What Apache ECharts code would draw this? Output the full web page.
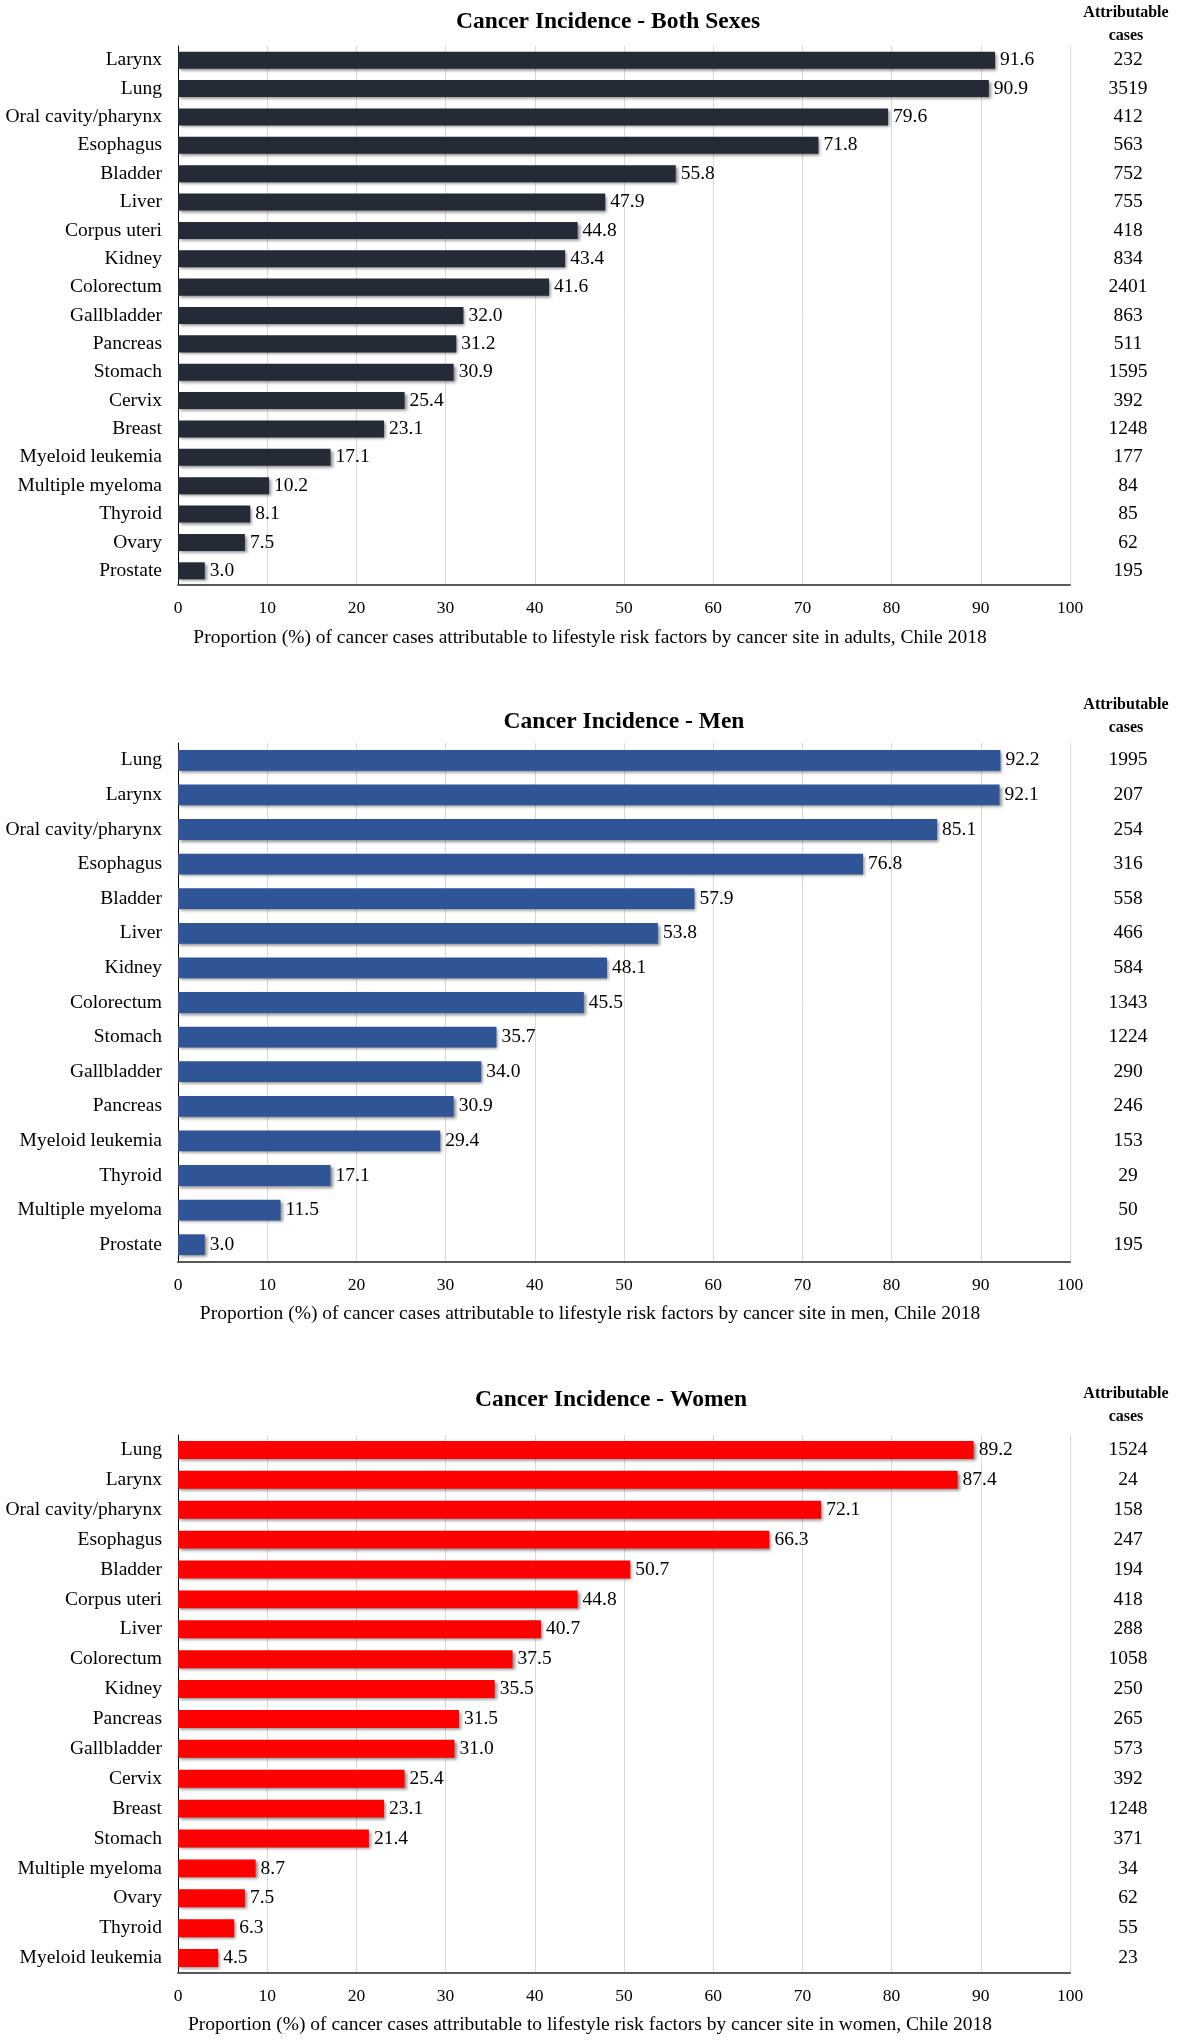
<!DOCTYPE html>
<html>
<head>
<meta charset="utf-8">
<script src="https://cdn.jsdelivr.net/npm/echarts@6/dist/echarts.min.js"></script>
<style>
html,body{margin:0;padding:0;background:#fff;}
#c{width:1181px;height:2040px;}
</style>
</head>
<body>
<div id="c"></div>
<script>
// ---- Data ----
const bothCategories = ["Larynx","Lung","Oral cavity/pharynx","Esophagus","Bladder","Liver","Corpus uteri","Kidney","Colorectum","Gallbladder","Pancreas","Stomach","Cervix","Breast","Myeloid leukemia","Multiple myeloma","Thyroid","Ovary","Prostate"];
const bothValues = [91.6,90.9,79.6,71.8,55.8,47.9,44.8,43.4,41.6,32.0,31.2,30.9,25.4,23.1,17.1,10.2,8.1,7.5,3.0];
const bothCases = [232,3519,412,563,752,755,418,834,2401,863,511,1595,392,1248,177,84,85,62,195];

const menCategories = ["Lung","Larynx","Oral cavity/pharynx","Esophagus","Bladder","Liver","Kidney","Colorectum","Stomach","Gallbladder","Pancreas","Myeloid leukemia","Thyroid","Multiple myeloma","Prostate"];
const menValues = [92.2,92.1,85.1,76.8,57.9,53.8,48.1,45.5,35.7,34.0,30.9,29.4,17.1,11.5,3.0];
const menCases = [1995,207,254,316,558,466,584,1343,1224,290,246,153,29,50,195];

const womenCategories = ["Lung","Larynx","Oral cavity/pharynx","Esophagus","Bladder","Corpus uteri","Liver","Colorectum","Kidney","Pancreas","Gallbladder","Cervix","Breast","Stomach","Multiple myeloma","Ovary","Thyroid","Myeloid leukemia"];
const womenValues = [89.2,87.4,72.1,66.3,50.7,44.8,40.7,37.5,35.5,31.5,31.0,25.4,23.1,21.4,8.7,7.5,6.3,4.5];
const womenCases = [1524,24,158,247,194,418,288,1058,250,265,573,392,1248,371,34,62,55,23];

const xTicks = [0,10,20,30,40,50,60,70,80,90,100];

const titles = ["Cancer Incidence - Both Sexes","Cancer Incidence - Men","Cancer Incidence - Women"];
const axisNames = [
  "Proportion (%) of cancer cases attributable to lifestyle risk factors by cancer site in adults, Chile 2018",
  "Proportion (%) of cancer cases attributable to lifestyle risk factors by cancer site in men, Chile 2018",
  "Proportion (%) of cancer cases attributable to lifestyle risk factors by cancer site in women, Chile 2018"
];
const headerText = "Attributable\ncases";

// ---- Layout ----
const FONT = "Liberation Serif";
const panels = [
  {cats: bothCategories, vals: bothValues, cases: bothCases, color: "#252b36", top: 46, height: 539, titleX: 608, titleY: 22, headY: 24, nameY: 638},
  {cats: menCategories, vals: menValues, cases: menCases, color: "#2f5597", top: 743, height: 519, titleX: 624, titleY: 722, headY: 716, nameY: 1314},
  {cats: womenCategories, vals: womenValues, cases: womenCases, color: "#ff0000", top: 1435, height: 538, titleX: 611, titleY: 1400, headY: 1405, nameY: 2025}
];

const grid = [], xAxis = [], yAxis = [], series = [], title = [];
panels.forEach((p, i) => {
  grid.push({left: 178, right: 111, top: p.top, height: p.height});
  xAxis.push({
    type: 'value', gridIndex: i, min: 0, max: 100, interval: 10,
    axisLine: {show: true, lineStyle: {color: '#595959', width: 2}},
    axisTick: {show: false},
    axisLabel: {color: '#000', fontFamily: FONT, fontSize: 17.5, margin: 14,
      formatter: v => xTicks.indexOf(v) >= 0 ? String(v) : ''},
    splitLine: {show: true, lineStyle: {color: '#d9d9d9', width: 1}}
  });
  yAxis.push({
    type: 'category', gridIndex: i, data: p.cats, inverse: true,
    axisLine: {show: true, lineStyle: {color: '#000', width: 1}},
    axisTick: {show: false},
    axisLabel: {color: '#000', fontFamily: FONT, fontSize: 19.5, margin: 16}
  });
  yAxis.push({
    type: 'category', gridIndex: i, data: p.cases.map(String), inverse: true, position: 'right',
    axisLine: {show: false}, axisTick: {show: false},
    axisLabel: {color: '#000', fontFamily: FONT, fontSize: 19.5, margin: 58, align: 'center'}
  });
  series.push({
    type: 'bar', xAxisIndex: i, yAxisIndex: i * 2, data: p.vals,
    barCategoryGap: '40%',
    itemStyle: {color: p.color, shadowColor: 'rgba(0,0,0,0.45)', shadowBlur: 3, shadowOffsetX: 2, shadowOffsetY: 2},
    label: {show: true, position: 'right', distance: 5, color: '#000', fontFamily: FONT, fontSize: 19.5,
      formatter: d => d.value.toFixed(1)},
    silent: true, animation: false
  });
  title.push({
    text: titles[i], left: p.titleX, top: p.titleY, padding: 0, textAlign: 'center', textVerticalAlign: 'middle',
    textStyle: {fontFamily: FONT, fontSize: 23.5, fontWeight: 'bold', color: '#000'}
  });
  title.push({
    text: axisNames[i], left: 590, top: p.nameY, padding: 0, textAlign: 'center', textVerticalAlign: 'middle',
    textStyle: {fontFamily: FONT, fontSize: 19.5, fontWeight: 'normal', color: '#000'}
  });
  title.push({
    text: headerText, left: 1126, top: p.headY, padding: 0, textAlign: 'center', textVerticalAlign: 'middle',
    textStyle: {fontFamily: FONT, fontSize: 16, fontWeight: 'bold', color: '#000', lineHeight: 23, align: 'center'}
  });
});

const chart = echarts.init(document.getElementById('c'), null, {renderer: 'canvas'});
chart.setOption({animation: false, backgroundColor: '#fff', title, grid, xAxis, yAxis, series});
</script>
</body>
</html>
